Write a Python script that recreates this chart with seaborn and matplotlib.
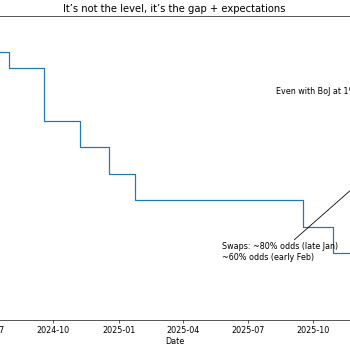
import matplotlib

matplotlib.use("Agg")

import matplotlib.dates as mdates
import matplotlib.pyplot as plt
import pandas as pd
import seaborn as sns

# Policy-rate gap (Fed upper bound minus BoJ), step changes
change_dates = [
    "2024-07-01",
    "2024-07-31",
    "2024-09-18",
    "2024-11-07",
    "2024-12-18",
    "2025-01-24",
    "2025-09-17",
    "2025-10-29",
    "2025-12-09",
]
gap_values = [5.40, 5.25, 4.75, 4.50, 4.25, 4.00, 3.75, 3.50, 3.50]

title = "It\u2019s not the level, it\u2019s the gap + expectations"
note_boj = "Even with BoJ at 1%, the gap stays wide"
note_swaps = "Swaps: ~80% odds (late Jan)\n~60% odds (early Feb)"


def main() -> None:
    df = pd.DataFrame({"date": pd.to_datetime(change_dates), "gap": gap_values})

    dpi = 58
    fig = plt.figure(figsize=(350 / dpi, 350 / dpi), dpi=dpi)
    ax = fig.add_axes([-0.22, 0.0857, 1.437, 0.8686])

    sns.lineplot(data=df, x="date", y="gap", drawstyle="steps-post", ax=ax,
                 color="#1f77b4", linewidth=1.5)

    ax.set_xlim(pd.Timestamp("2024-04-01"), pd.Timestamp("2026-03-08"))
    ax.set_ylim(2.867, 5.74)
    ax.xaxis.set_major_locator(mdates.MonthLocator(bymonth=[1, 4, 7, 10]))
    ax.xaxis.set_major_formatter(mdates.DateFormatter("%Y-%m"))
    ax.set_xlabel("Date", fontsize=10, labelpad=3)
    ax.set_ylabel("")
    ax.tick_params(labelsize=10)
    ax.set_title(title, fontsize=12.4, pad=5)

    ax.text(pd.Timestamp("2025-08-10"), 5.025, note_boj, fontsize=10, va="center")
    ax.annotate(
        note_swaps,
        xy=(pd.Timestamp("2026-01-23"), 4.46),
        xytext=(pd.Timestamp("2025-05-26"), 3.60),
        fontsize=10,
        va="top",
        ha="left",
        arrowprops=dict(arrowstyle="->", color="black", lw=1),
    )

    fig.savefig("out.png", dpi=dpi)
    plt.close(fig)


if __name__ == "__main__":
    main()
